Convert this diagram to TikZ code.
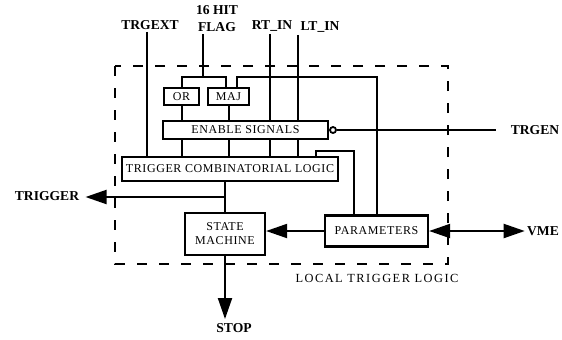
\documentclass[tikz,border=0pt]{standalone}
\usepackage{fontspec}
\setmainfont{Liberation Serif}
\newfontfamily\blkfont[LetterSpace=5]{Liberation Serif}
\newfontfamily\tagfont[LetterSpace=12]{Liberation Serif}
\usetikzlibrary{arrows.meta,positioning,calc}

\begin{document}
\begin{tikzpicture}[x=0.5pt, y=-0.5pt,
  blk/.style={draw, line width=1.1pt, inner sep=0pt, align=center, font=\blkfont\fontsize{6}{7}\selectfont},
  lbl/.style={font=\bfseries\fontsize{6.8}{8.5}\selectfont, inner sep=1pt, align=center},
  ln/.style={line width=1pt},
  arr/.style={line width=1pt, -{Triangle[length=10.5pt,width=7pt]}},
  darr/.style={line width=1pt, {Triangle[length=10.5pt,width=7pt]}-{Triangle[length=10.5pt,width=7pt]}}
]
\useasboundingbox (0,0) rectangle (562,339);

\draw[line width=1.2pt, dash pattern=on 5pt off 6pt] (115,66) rectangle (448,264);
\node[font=\tagfont\fontsize{6.2}{7}\selectfont] (ltl) at (377,278) {LOCAL TRIGGER LOGIC};

\node[blk, minimum width=17.5pt, minimum height=8.5pt] (or) at (181.5,96.5) {OR};
\node[blk, minimum width=20.5pt, minimum height=8.5pt] (maj) at (228.5,96.5) {MAJ};
\node[blk, minimum width=82.5pt, minimum height=9pt] (enable) at (245.5,130) {ENABLE SIGNALS};
\node[blk, minimum width=108pt, minimum height=12pt] (comb) at (230,169) {TRIGGER COMBINATORIAL LOGIC};
\node[blk, minimum width=40pt, minimum height=21pt] (sm) at (225,234) {STATE\\MACHINE};
\node[blk, minimum width=51.5pt, minimum height=15.5pt] (par) at (376.5,231) {PARAMETERS};
\node[circle, draw, line width=0.9pt, inner sep=0pt, minimum size=3pt, anchor=west] (inv) at (enable.east) {};

\node[lbl] (trgext) at (150,25) {TRGEXT};
\node[lbl] (flag) at (217,19) {16 HIT\\FLAG};
\node[lbl] (rtin) at (272,26) {RT\_IN};
\node[lbl] (ltin) at (320,27) {LT\_IN};
\node[lbl] (trgen) at (535,130) {TRGEN};
\node[lbl] (trigger) at (47,196) {TRIGGER};
\node[lbl] (vme) at (543,231) {VME};
\node[lbl] (stop) at (234,328) {STOP};

\coordinate (fsplit) at (203,77);
\coordinate (pc) at (354,151);
\coordinate (te) at ($(trgext.south)+(-3,0)$);
\coordinate (re) at ($(rtin.south)+(-2,0)$);
\coordinate (le) at (ltin.south west);
\coordinate (tj) at ($(comb.south -| sm.north)!0.5!(sm.north)$);

\draw[ln] (te) -- (te |- comb.north);
\draw[ln] (flag.south -| fsplit) -- (fsplit);
\draw[ln] (or.north) |- (fsplit) -| ($(maj.north)+(-2.5,0)$);
\draw[ln] (re) -- (re |- enable.north);
\draw[ln] (le) -- (le |- enable.north);
\draw[ln] (par.north) -- (par.north |- fsplit) -| ($(maj.north)+(8.5,0)$);
\draw[ln] (or.south) -- (or.south |- enable.north);
\draw[ln] (maj.south) -- (maj.south |- enable.north);
\foreach \p in {or.south, maj.south, re, le}
  \draw[ln] (\p |- enable.south) -- (\p |- comb.north);
\draw[ln, shorten >=6pt] (inv) -- (trgen);
\draw[ln] ($(comb.north east)+(-23,0)$) |- (pc) -- (pc |- par.north);
\draw[ln] (comb.south -| sm.north) -- (sm.north);
\draw[arr, shorten >=2pt] (tj) -- (tj -| trigger.east);
\draw[arr] (par.west) -- (par.west -| sm.east);
\draw[darr] (par.east) -- (vme.west);
\draw[arr, shorten >=1pt] (sm.south) -- (sm.south |- stop.north);
\end{tikzpicture}
\end{document}
